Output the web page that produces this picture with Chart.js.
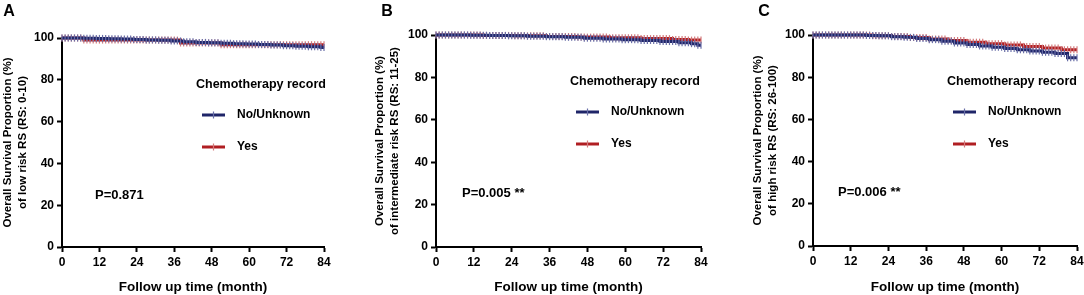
<!DOCTYPE html>
<html>
<head>
<meta charset="utf-8">
<script src="https://cdn.jsdelivr.net/npm/chart.js@4.4.1/dist/chart.umd.min.js"></script>
<style>
  html, body { margin: 0; padding: 0; background: #fff; overflow: hidden; }
  body { width: 1084px; height: 295px; position: relative; }
  canvas { position: absolute; top: 0; }
</style>
</head>
<body>
<canvas id="ChartA" width="340" height="295" style="left:0px"></canvas>
<canvas id="ChartB" width="360" height="295" style="left:360px"></canvas>
<canvas id="ChartC" width="380" height="295" style="left:720px"></canvas>
<script>
// follow-up months, one censor mark per month
const months = [0,1,2,3,4,5,6,7,8,9,10,11,12,13,14,15,16,17,18,19,20,21,22,23,24,25,26,27,28,29,30,
  31,32,33,34,35,36,37,38,39,40,41,42,43,44,45,46,47,48,49,50,51,52,53,54,55,56,57,58,59,60,
  61,62,63,64,65,66,67,68,69,70,71,72,73,74,75,76,77,78,79,80,81,82,83,84];
const xTicks = [0, 12, 24, 36, 48, 60, 72, 84];
const yTicks = [0, 20, 40, 60, 80, 100];
const seriesNames = ['No/Unknown', 'Yes'];
const legendTitle = 'Chemotherapy record';

// survival (%) per month, low risk RS 0-10
const lowNo = [100,100,100,100,100,100,100, 99.9,99.9,99.9,99.9, 99.8,99.8,99.8,99.8, 99.7,99.7,99.7,99.7,
  99.5,99.5,99.5,99.5, 99.3,99.3,99.3,99.3, 99.1,99.1,99.1,99.1, 98.9,98.9,98.9,98.9, 98.6,98.6,98.6,98.6,
  98.2,98.2,98.2,98.2, 97.9,97.9,97.9,97.9, 97.7,97.7,97.7,97.7, 97.5,97.5,97.5,97.5, 97.3,97.3,97.3,97.3,
  97.1,97.1,97.1,97.1, 96.9,96.9,96.9,96.9, 96.6,96.6,96.6,96.6, 96.3,96.3,96.3,96.3, 96.1,96.1,96.1,96.1,
  95.8,95.8,95.8,95.8, 95.5,95.5];
const lowYes = [100,100,100,100,100,100,100,
  99,99,99,99,99,99,99,99,99,99, 99,99,99,99,99,99,99,99,99,99, 99,99,99,99,99,99,99,99,99,99, 99,
  97.6,97.6,97.6,97.6,97.6,97.6,97.6,97.6,97.6,97.6,97.6,97.6,97.6,
  96.8,96.8,96.8,96.8,96.8,96.8,96.8,96.8,96.8,96.8, 96.8,96.8,96.8,96.8,96.8,96.8,96.8,96.8,96.8,96.8,
  96.8,96.8,96.8,96.8,96.8,96.8,96.8,96.8,96.8,96.8, 96.8,96.8,96.8,96.8];

// intermediate risk RS 11-25
const midNo = [100,100,100,100,100,100,100,100,100,100,100, 99.9,99.9,99.9,99.9,99.9,99.9,
  99.8,99.8,99.8,99.8,99.8,99.8, 99.6,99.6,99.6,99.6,99.6,99.6, 99.4,99.4,99.4,99.4,99.4,99.4,
  99.2,99.2,99.2,99.2,99.2,99.2, 98.9,98.9,98.9,98.9,98.9,98.9, 98.5,98.5,98.5,98.5,98.5,98.5,
  98.1,98.1,98.1,98.1,98.1,98.1, 97.8,97.8,97.8,97.8,97.8,97.8, 97.4,97.4,97.4,97.4,97.4,97.4,
  96.9,96.9,96.9,96.9,96.9,96.9, 96.3,96.3,96.3,96.3, 95.9,95.9, 95.2,95.2];
const midYes = [100,100,100,100,100,100,100,100,100,100,100,100,100,100,100,
  99.8,99.8,99.8,99.8,99.8,99.8,99.8,99.8,99.8,99.8, 99.6,99.6,99.6,99.6,99.6,99.6,99.6,99.6,99.6,99.6,
  99.3,99.3,99.3,99.3,99.3,99.3,99.3,99.3,99.3,99.3, 99,99,99,99,99,99,99,99,99,99,
  98.7,98.7,98.7,98.7,98.7,98.7,98.7,98.7,98.7,98.7, 98.3,98.3,98.3,98.3,98.3,98.3,98.3,98.3,98.3,98.3,
  97.9,97.9,97.9,97.9,97.9, 97.6,97.6,97.6,97.6,97.6];

// high risk RS 26-100
const highNo = [100,100,100,100,100,100,100,100,100,100,100,100,100,100,100,100,100,
  99.8,99.8,99.8,99.8, 99.6,99.6,99.6,99.6, 99.2,99.2,99.2,99.2, 98.9,98.9,98.9,98.9,
  98.4,98.4,98.4,98.4, 97.8,97.8,97.8,97.8, 97,97,97,97, 96.2,96.2,96.2,96.2,
  95.5,95.5,95.5,95.5, 94.8,94.8,94.8,94.8, 94.2,94.2,94.2,94.2, 93.6,93.6,93.6,93.6,
  93,93,93,93, 92.4,92.4,92.4,92.4, 91.8,91.8,91.8,91.8, 91.2,91.2,91.2,91.2, 89.2,89.2,89.2,89.2];
const highYes = [100,100,100,100,100,100,100,100,100,100,100,100,100,100,100,100,100,100,100,
  99.7,99.7,99.7,99.7,99.7,99.7, 99.3,99.3,99.3,99.3,99.3,99.3, 98.8,98.8,98.8,98.8,98.8,98.8,
  98.1,98.1,98.1,98.1,98.1,98.1, 97.4,97.4,97.4,97.4,97.4,97.4, 96.6,96.6,96.6,96.6,96.6,96.6,
  95.9,95.9,95.9,95.9,95.9,95.9, 95.3,95.3,95.3,95.3,95.3,95.3, 94.6,94.6,94.6,94.6,94.6,94.6,
  93.8,93.8,93.8,93.8,93.8,93.8, 93,93,93,93,93,93];

const pValues = ['P=0.871', 'P=0.005 **', 'P=0.006 **'];
const yTitles = [
  ['Overall Survival Proportion (%)', 'of low risk RS (RS: 0-10)'],
  ['Overall Survival Proportion (%)', 'of intermediate risk RS (RS: 11-25)'],
  ['Overall Survival Proportion (%)', 'of high risk RS (RS: 26-100)']
];
const xTitle = 'Follow up time (month)';

const FONT = 'Arial, "Liberation Sans", Helvetica, sans-serif';
const lineColors = ['#1f2568', '#b01e22'];
const tickColors = ['#6a6fa8', '#d27a7c'];

Chart.defaults.font.family = FONT;
Chart.defaults.font.weight = 'bold';
Chart.defaults.color = '#000';

// legend, p-value and panel letter, drawn relative to the plot area
const notesPlugin = {
    id: 'kmNotes',
    afterDraw(chart, args, opts)
    {
        const ctx = chart.ctx;
        const L = chart.chartArea.left, T = chart.chartArea.top;
        ctx.save();
        ctx.fillStyle = '#000';
        ctx.textBaseline = 'middle';

        ctx.textAlign = 'center';
        ctx.font = 'bold 16px ' + FONT;
        ctx.fillText(opts.letter, opts.letterX, 12);

        ctx.textAlign = 'left';
        ctx.font = 'bold 12.5px ' + FONT;
        ctx.fillText(legendTitle, L + 134, T + 47);

        const rowY = [T + 77, T + 109];
        ctx.font = 'bold 12px ' + FONT;
        seriesNames.forEach((name, i) => {
            ctx.strokeStyle = lineColors[i];
            ctx.lineWidth = 3;
            ctx.beginPath();
            ctx.moveTo(L + 140, rowY[i]);
            ctx.lineTo(L + 163, rowY[i]);
            ctx.stroke();
            ctx.strokeStyle = tickColors[i];
            ctx.lineWidth = 1.2;
            ctx.beginPath();
            ctx.moveTo(L + 151.5, rowY[i] - 3.5);
            ctx.lineTo(L + 151.5, rowY[i] + 3.5);
            ctx.stroke();
            ctx.fillText(name, L + 175, rowY[i]);
        });

        ctx.font = 'bold 13px ' + FONT;
        ctx.fillText(opts.pText, L + opts.pX, T + opts.pY);
        ctx.restore();
    }
};

function Build(id, noVals, yesVals, yTitle, pText, lay)
{
    const ctx = document.getElementById(id).getContext('2d');
    const series = [noVals, yesVals];
    new Chart(ctx, {
        type: 'line',
        data: {
            datasets: series.map((vals, i) => ({
                label: seriesNames[i],
                data: months.map((m, j) => ({x: m, y: vals[j]})),
                stepped: true,
                borderColor: lineColors[i],
                backgroundColor: lineColors[i],
                borderWidth: 3,
                pointStyle: 'line',
                rotation: 90,
                pointRadius: 3.5,
                pointBorderWidth: 1.2,
                pointBorderColor: tickColors[i],
                clip: false
            }))
        },
        options: {
            responsive: false,
            animation: false,
            devicePixelRatio: 1,
            layout: { padding: { left: lay.padLeft, top: lay.top, right: lay.right, bottom: 0 } },
            plugins: {
                legend: { display: false },
                tooltip: { enabled: false },
                kmNotes: { letter: lay.letter, letterX: lay.letterX, pText: pText, pX: lay.pX, pY: lay.pY }
            },
            scales: {
                x: {
                    type: 'linear',
                    min: 0, max: 84,
                    afterBuildTicks: s => { s.ticks = xTicks.map(v => ({value: v})); },
                    afterFit: s => { s.height = lay.xHeight; },
                    ticks: { font: { size: 12, weight: 'bold' }, color: '#000', padding: 3 },
                    grid: { display: true, drawOnChartArea: false, drawTicks: true, tickLength: 5, tickColor: '#000', tickWidth: 2 },
                    border: { display: true, color: '#000', width: 2 },
                    title: { display: true, text: xTitle, color: '#000', font: { size: 13.5, weight: 'bold' }, padding: { top: 0, bottom: 0 } }
                },
                y: {
                    type: 'linear',
                    min: 0, max: 100,
                    afterBuildTicks: s => { s.ticks = yTicks.map(v => ({value: v})); },
                    afterFit: s => { s.width = lay.yWidth; },
                    ticks: { font: { size: 12, weight: 'bold' }, color: '#000', padding: 3 },
                    grid: { display: true, drawOnChartArea: false, drawTicks: true, tickLength: 5, tickColor: '#000', tickWidth: 2 },
                    border: { display: true, color: '#000', width: 2 },
                    title: { display: true, text: yTitle, color: '#000', font: { size: 11.5, weight: 'bold', lineHeight: 1.3 }, padding: 0 }
                }
            }
        },
        plugins: [notesPlugin]
    });
}

Build('ChartA', lowNo, lowYes, yTitles[0], pValues[0],
    { letter: 'A', letterX: 9, padLeft: 0, yWidth: 62, top: 38, right: 16, xHeight: 48, pX: 33, pY: 157 });
Build('ChartB', midNo, midYes, yTitles[1], pValues[1],
    { letter: 'B', letterX: 27, padLeft: 12.5, yWidth: 63.5, top: 35, right: 19, xHeight: 48, pX: 26, pY: 158 });
Build('ChartC', highNo, highYes, yTitles[2], pValues[2],
    { letter: 'C', letterX: 44, padLeft: 30.8, yWidth: 62.2, top: 35, right: 23, xHeight: 49, pX: 25, pY: 157 });
</script>
</body>
</html>
